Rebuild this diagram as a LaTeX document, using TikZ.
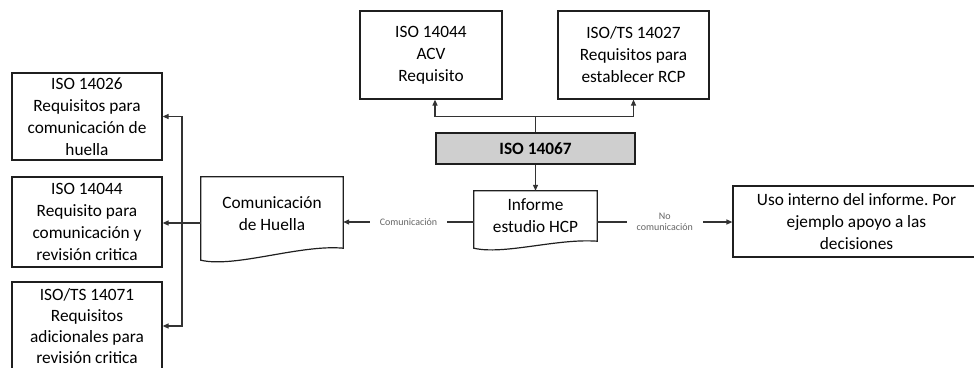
\documentclass[tikz,border=0pt]{standalone}
\usepackage{fontspec}
\setmainfont{Carlito}
\usetikzlibrary{arrows.meta,calc}
\frenchspacing

\begin{document}
\begin{tikzpicture}[x=1pt,y=-1pt,
  box/.style={draw=black!88, line width=1.2pt, fill=white, inner sep=2pt, align=center,
              font=\fontsize{17.3}{22}\selectfont},
  docnode/.style={draw=none, inner sep=2pt, align=center, font=\fontsize{17.3}{22}\selectfont},
  docline/.style={draw=black!88, line width=1.2pt},
  conn/.style={draw=black!80, line width=1.2pt},
  arr/.style={conn, -{Triangle[length=6pt,width=5pt]}},
  lbl/.style={fill=white, text=black!60, font=\fontsize{10}{11}\selectfont,
              inner xsep=10pt, inner ysep=1pt, align=center}]
\useasboundingbox (0,0) rectangle (974,367);
\clip (0,0) rectangle (974,367);

% standards required by the footprint study
\node[box, minimum width=142, minimum height=88] (acv) at (431,55) {ISO 14044\\ACV\\Requisito};
\node[box, minimum width=151, minimum height=88] (rcp) at (633.5,55) {ISO/TS 14027\\Requisitos para\\establecer RCP};
\node[box, fill=black!19, minimum width=199, minimum height=31,
      font=\fontsize{17.3}{22}\selectfont\bfseries] (hcp) at (535.5,148.5) {ISO 14067};

% study report (document shape)
\node[docnode, minimum width=123, minimum height=50] (inf) at (535.5,216) {Informe\\estudio HCP};
\draw[docline] (inf.north west) -- (inf.north east) -- (inf.south east)
  .. controls ($(inf.south east)+(-40,-3)$) and ($(inf.south west)+(30,14)$) .. ($(inf.south west)+(0,7)$) -- cycle;

% footprint communication (document shape)
\node[docnode, minimum width=142, minimum height=73] (com) at (272,213.5) {Comunicación\\de Huella};
\draw[docline] (com.north west) -- (com.north east) -- ($(com.south east)+(0,-2)$)
  .. controls ($(com.south east)+(-43,-6)$) and ($(com.south west)+(34,18)$) .. ($(com.south west)+(0,10)$) -- cycle;

% internal use
\node[box, minimum width=247, minimum height=71] (uso) at (856.5,221.5) {Uso interno del informe. Por\\ejemplo apoyo a las\\decisiones};

% communication requirements
\node[box, minimum width=150, minimum height=87] (b26) at (87,116.5) {ISO 14026\\Requisitos para\\comunicación de\\huella};
\node[box, minimum width=150, minimum height=90] (b44) at (87,222) {ISO 14044\\Requisito para\\comunicación y\\revisión critica};
\node[box, minimum width=150, minimum height=89, font=\fontsize{17.3}{21}\selectfont] (b71) at (87,326.5) {ISO/TS 14071\\Requisitos\\adicionales para\\revisión critica};

% connectors from ISO 14067
\coordinate (tj) at ($(hcp.north)+(0,-16)$);
\draw[conn] (hcp.north) -- (tj);
\draw[arr] (tj) -| ([xshift=4]acv.south);
\draw[arr] (tj) -| (rcp.south);
\draw[arr] (hcp.south) -- (inf.north);

% report branches
\coordinate (ml) at ($(inf.west)+(0,6)$);
\draw[arr] (ml) -- node[lbl] {Comunicación} (ml -| com.east);
\draw[arr] (ml -| inf.east) -- node[lbl] {No\\comunicación} (ml -| uso.west);

% bus to the communication standards
\coordinate (bus) at (182,0);
\coordinate (cl) at ($(com.west)+(0,9.5)$);
\draw[conn] (cl) -- (cl -| bus);
\draw[arr] (cl -| bus) -- (cl -| b44.east);
\draw[arr] (cl -| bus) |- (b26.east);
\draw[arr] (cl -| bus) |- ([yshift=0.5]b71.east);
\end{tikzpicture}
\end{document}
